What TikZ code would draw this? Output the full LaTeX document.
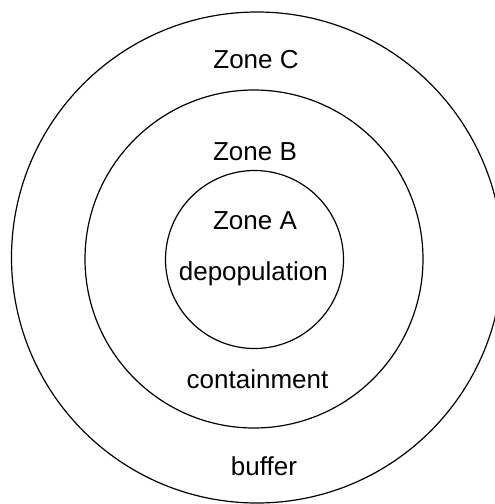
\documentclass[tikz,border=0pt]{standalone}
\usepackage{fontspec}
\setmainfont{Liberation Sans}
\usepackage{tikz}
\usetikzlibrary{positioning}

\tikzset{
  zone/.style={draw,circle,line width=1.2pt,inner sep=0pt},
  lbl/.style={anchor=base,inner sep=0pt,font=\fontsize{26}{31}\selectfont}
}

\begin{document}
\begin{tikzpicture}[x=1pt,y=-1pt]
\useasboundingbox (0,0) rectangle (495,504);
% rings
\node[zone,minimum size=491pt] (outer) at (257,257.5) {};
\node[zone,minimum size=338pt] (middle) at (254,259) {};
\node[zone,minimum size=178pt] (inner) at (254.5,259.5) {};

% labels
\node[lbl] (zonec) at (256,68.3) {Zone C};
\node[lbl] (zoneb) at (255,160) {Zone B};
\node[lbl] (zonea) at (255,229.3) {Zone A};
\node[lbl] (depop) at (253.3,280.5) {depopulation};
\node[lbl] (contain) at (257.5,388.3) {containment};
\node[lbl] (buffer) at (264,475) {buffer};
\end{tikzpicture}
\end{document}
